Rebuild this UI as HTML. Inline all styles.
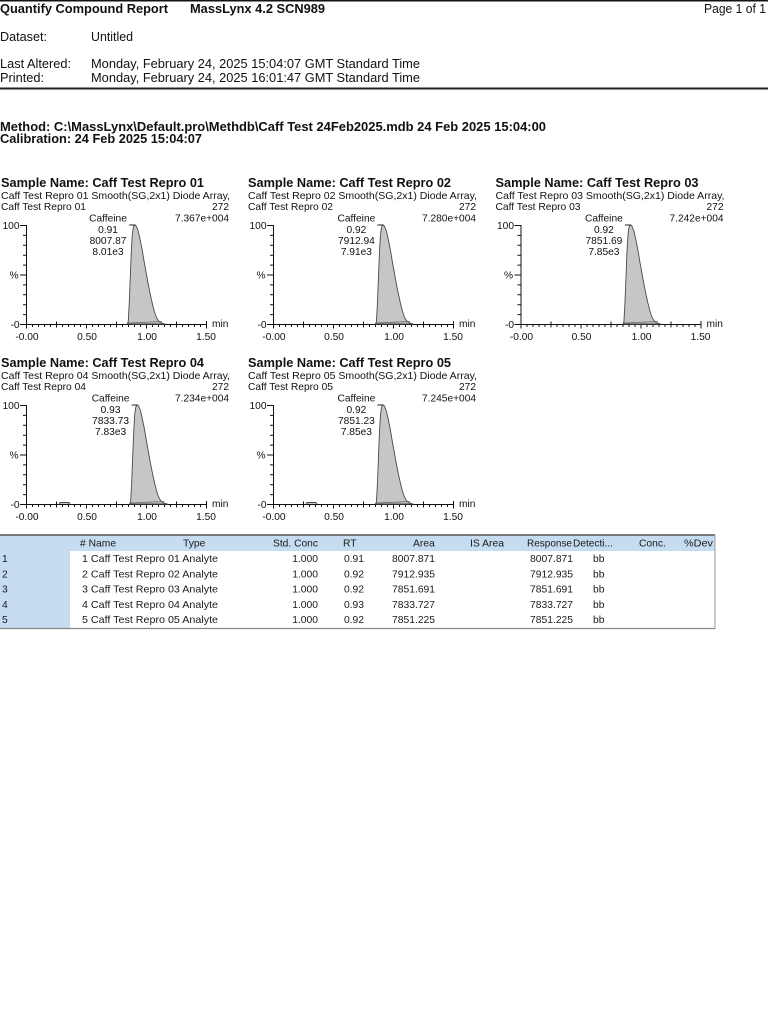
<!DOCTYPE html>
<html>
<head>
<meta charset="utf-8">
<style>
html,body{margin:0;padding:0;background:#fff;}
svg{display:block;}
text{font-family:"Liberation Sans",Arial,sans-serif;fill:#111;}
.b{font-weight:bold;}
.h{font-size:12.5px;}
.c{font-size:10.2px;}
.t{font-size:10.3px;fill:#1a1a1a;}
</style>
</head>
<body>
<svg width="768" height="1024" viewBox="0 0 768 1024" xmlns="http://www.w3.org/2000/svg">
<defs>
  <g id="ax">
    <path d="M26.5 225V324.5 M20 225.5H26.5 M23 235.4H26.5 M23 245.3H26.5 M23 255.2H26.5 M23 265.1H26.5 M20 275H26.5 M23 284.9H26.5 M23 294.8H26.5 M23 304.7H26.5 M23 314.6H26.5 M20 324.5H26.5 M26.5 324.5H206.5" stroke="#111" stroke-width="1" fill="none"/>
    <path d="M26.5 324.5V328.5 M32.5 324.5V327 M38.5 324.5V327 M44.5 324.5V327 M50.5 324.5V327 M56.5 321.5V327.5 M62.5 324.5V327 M68.5 324.5V327 M74.5 324.5V327 M80.5 324.5V327 M86.5 324.5V328.5 M92.5 324.5V327 M98.5 324.5V327 M104.5 324.5V327 M110.5 324.5V327 M116.5 321.5V327.5 M122.5 324.5V327 M128.5 324.5V327 M134.5 324.5V327 M140.5 324.5V327 M146.5 324.5V328.5 M152.5 324.5V327 M158.5 324.5V327 M164.5 324.5V327 M170.5 324.5V327 M176.5 321.5V327.5 M182.5 324.5V327 M188.5 324.5V327 M194.5 324.5V327 M200.5 324.5V327 M206.5 321V328.5" stroke="#111" stroke-width="1" fill="none"/>
  </g>
  <g id="pk">
    <polygon points="-8,0 -7,-2 -6,-20 -5,-45 -4,-70 -3,-88 -2,-96 -1,-99 0,-99 1,-98 3,-93 5,-84 7,-74 9,-62 11,-51 13,-40 15,-30 17,-21 19,-13 21,-7 23,-3.5 25,-1.5 28,-0.5 30,0" fill="#c6c6c6" stroke="#4a4a4a" stroke-width="0.9"/>
    <line x1="-7" y1="-1" x2="27" y2="-2.5" stroke="#666" stroke-width="0.8"/>
    <line x1="-6" y1="-99" x2="0" y2="-99" stroke="#222" stroke-width="1"/>
  </g>
</defs>

<!-- Header -->
<rect x="0" y="0" width="768" height="1.5" fill="#111"/>
<text class="b h" x="0" y="13" textLength="168" lengthAdjust="spacingAndGlyphs" style="font-size:13px">Quantify Compound Report</text>
<text class="b h" x="190" y="13" textLength="135" lengthAdjust="spacingAndGlyphs" style="font-size:13px">MassLynx 4.2 SCN989</text>
<text class="h" x="704" y="13" textLength="62" lengthAdjust="spacingAndGlyphs">Page 1 of 1</text>
<text class="h" x="0" y="41" textLength="47" lengthAdjust="spacingAndGlyphs">Dataset:</text>
<text class="h" x="91" y="41" textLength="42" lengthAdjust="spacingAndGlyphs">Untitled</text>
<text class="h" x="0" y="68" textLength="71" lengthAdjust="spacingAndGlyphs">Last Altered:</text>
<text class="h" x="91" y="68" textLength="329" lengthAdjust="spacingAndGlyphs">Monday, February 24, 2025 15:04:07 GMT Standard Time</text>
<text class="h" x="0" y="82" textLength="44" lengthAdjust="spacingAndGlyphs">Printed:</text>
<text class="h" x="91" y="82" textLength="329" lengthAdjust="spacingAndGlyphs">Monday, February 24, 2025 16:01:47 GMT Standard Time</text>
<rect x="0" y="87.5" width="768" height="2" fill="#222"/>

<text class="b" x="0" y="131" style="font-size:13px" textLength="546" lengthAdjust="spacingAndGlyphs">Method: C:\MassLynx\Default.pro\Methdb\Caff Test 24Feb2025.mdb 24 Feb 2025 15:04:00</text>
<text class="b" x="0" y="143" style="font-size:13px" textLength="202" lengthAdjust="spacingAndGlyphs">Calibration: 24 Feb 2025 15:04:07</text>

<!-- Chart 1 -->
<g transform="translate(0,0)">
  <text class="b" x="1" y="187" style="font-size:13px" textLength="203" lengthAdjust="spacingAndGlyphs">Sample Name: Caff Test Repro 01</text>
  <text class="c" x="1" y="199" textLength="229" lengthAdjust="spacingAndGlyphs">Caff Test Repro 01 Smooth(SG,2x1) Diode Array,</text>
  <text class="c" x="1" y="210" textLength="85" lengthAdjust="spacingAndGlyphs">Caff Test Repro 01</text>
  <text class="c" x="229" y="210" text-anchor="end">272</text>
  <text class="c" x="229" y="221.5" text-anchor="end" textLength="54" lengthAdjust="spacingAndGlyphs">7.367e+004</text>
  <use href="#ax"/>
  <use href="#pk" transform="translate(135.2,324)"/>
  <text class="c" x="108" y="221.5" text-anchor="middle">Caffeine</text>
  <text class="c" x="108" y="233" text-anchor="middle">0.91</text>
  <text class="c" x="108" y="244" text-anchor="middle">8007.87</text>
  <text class="c" x="108" y="255" text-anchor="middle">8.01e3</text>
  <text class="c" x="19.5" y="229" text-anchor="end">100</text>
  <text class="c" x="18.5" y="278.5" text-anchor="end">%</text>
  <text class="c" x="19.5" y="328" text-anchor="end">-0</text>
  <text class="c" x="27" y="340" text-anchor="middle">-0.00</text>
  <text class="c" x="87" y="340" text-anchor="middle">0.50</text>
  <text class="c" x="147" y="340" text-anchor="middle">1.00</text>
  <text class="c" x="206" y="340" text-anchor="middle">1.50</text>
  <text class="c" x="212" y="327">min</text>
</g>

<!-- Chart 2 -->
<g transform="translate(247,0)">
  <text class="b" x="1" y="187" style="font-size:13px" textLength="203" lengthAdjust="spacingAndGlyphs">Sample Name: Caff Test Repro 02</text>
  <text class="c" x="1" y="199" textLength="229" lengthAdjust="spacingAndGlyphs">Caff Test Repro 02 Smooth(SG,2x1) Diode Array,</text>
  <text class="c" x="1" y="210" textLength="85" lengthAdjust="spacingAndGlyphs">Caff Test Repro 02</text>
  <text class="c" x="229" y="210" text-anchor="end">272</text>
  <text class="c" x="229" y="221.5" text-anchor="end" textLength="54" lengthAdjust="spacingAndGlyphs">7.280e+004</text>
  <use href="#ax"/>
  <use href="#pk" transform="translate(136.4,324)"/>
  <text class="c" x="109.4" y="221.5" text-anchor="middle">Caffeine</text>
  <text class="c" x="109.4" y="233" text-anchor="middle">0.92</text>
  <text class="c" x="109.4" y="244" text-anchor="middle">7912.94</text>
  <text class="c" x="109.4" y="255" text-anchor="middle">7.91e3</text>
  <text class="c" x="19.5" y="229" text-anchor="end">100</text>
  <text class="c" x="18.5" y="278.5" text-anchor="end">%</text>
  <text class="c" x="19.5" y="328" text-anchor="end">-0</text>
  <text class="c" x="27" y="340" text-anchor="middle">-0.00</text>
  <text class="c" x="87" y="340" text-anchor="middle">0.50</text>
  <text class="c" x="147" y="340" text-anchor="middle">1.00</text>
  <text class="c" x="206" y="340" text-anchor="middle">1.50</text>
  <text class="c" x="212" y="327">min</text>
</g>

<!-- Chart 3 -->
<g transform="translate(494.5,0)">
  <text class="b" x="1" y="187" style="font-size:13px" textLength="203" lengthAdjust="spacingAndGlyphs">Sample Name: Caff Test Repro 03</text>
  <text class="c" x="1" y="199" textLength="229" lengthAdjust="spacingAndGlyphs">Caff Test Repro 03 Smooth(SG,2x1) Diode Array,</text>
  <text class="c" x="1" y="210" textLength="85" lengthAdjust="spacingAndGlyphs">Caff Test Repro 03</text>
  <text class="c" x="229" y="210" text-anchor="end">272</text>
  <text class="c" x="229" y="221.5" text-anchor="end" textLength="54" lengthAdjust="spacingAndGlyphs">7.242e+004</text>
  <use href="#ax"/>
  <use href="#pk" transform="translate(136.4,324)"/>
  <text class="c" x="109.4" y="221.5" text-anchor="middle">Caffeine</text>
  <text class="c" x="109.4" y="233" text-anchor="middle">0.92</text>
  <text class="c" x="109.4" y="244" text-anchor="middle">7851.69</text>
  <text class="c" x="109.4" y="255" text-anchor="middle">7.85e3</text>
  <text class="c" x="19.5" y="229" text-anchor="end">100</text>
  <text class="c" x="18.5" y="278.5" text-anchor="end">%</text>
  <text class="c" x="19.5" y="328" text-anchor="end">-0</text>
  <text class="c" x="27" y="340" text-anchor="middle">-0.00</text>
  <text class="c" x="87" y="340" text-anchor="middle">0.50</text>
  <text class="c" x="147" y="340" text-anchor="middle">1.00</text>
  <text class="c" x="206" y="340" text-anchor="middle">1.50</text>
  <text class="c" x="212" y="327">min</text>
</g>

<!-- Chart 4 -->
<g transform="translate(0,180)">
  <text class="b" x="1" y="187" style="font-size:13px" textLength="203" lengthAdjust="spacingAndGlyphs">Sample Name: Caff Test Repro 04</text>
  <text class="c" x="1" y="199" textLength="229" lengthAdjust="spacingAndGlyphs">Caff Test Repro 04 Smooth(SG,2x1) Diode Array,</text>
  <text class="c" x="1" y="210" textLength="85" lengthAdjust="spacingAndGlyphs">Caff Test Repro 04</text>
  <text class="c" x="229" y="210" text-anchor="end">272</text>
  <text class="c" x="229" y="221.5" text-anchor="end" textLength="54" lengthAdjust="spacingAndGlyphs">7.234e+004</text>
  <use href="#ax"/>
  <path d="M59 324 L60 322.5 H69 L70 324" fill="#c6c6c6" stroke="#4a4a4a" stroke-width="0.9"/>
  <use href="#pk" transform="translate(137.6,324)"/>
  <text class="c" x="110.6" y="221.5" text-anchor="middle">Caffeine</text>
  <text class="c" x="110.6" y="233" text-anchor="middle">0.93</text>
  <text class="c" x="110.6" y="244" text-anchor="middle">7833.73</text>
  <text class="c" x="110.6" y="255" text-anchor="middle">7.83e3</text>
  <text class="c" x="19.5" y="229" text-anchor="end">100</text>
  <text class="c" x="18.5" y="278.5" text-anchor="end">%</text>
  <text class="c" x="19.5" y="328" text-anchor="end">-0</text>
  <text class="c" x="27" y="340" text-anchor="middle">-0.00</text>
  <text class="c" x="87" y="340" text-anchor="middle">0.50</text>
  <text class="c" x="147" y="340" text-anchor="middle">1.00</text>
  <text class="c" x="206" y="340" text-anchor="middle">1.50</text>
  <text class="c" x="212" y="327">min</text>
</g>

<!-- Chart 5 -->
<g transform="translate(247,180)">
  <text class="b" x="1" y="187" style="font-size:13px" textLength="203" lengthAdjust="spacingAndGlyphs">Sample Name: Caff Test Repro 05</text>
  <text class="c" x="1" y="199" textLength="229" lengthAdjust="spacingAndGlyphs">Caff Test Repro 05 Smooth(SG,2x1) Diode Array,</text>
  <text class="c" x="1" y="210" textLength="85" lengthAdjust="spacingAndGlyphs">Caff Test Repro 05</text>
  <text class="c" x="229" y="210" text-anchor="end">272</text>
  <text class="c" x="229" y="221.5" text-anchor="end" textLength="54" lengthAdjust="spacingAndGlyphs">7.245e+004</text>
  <use href="#ax"/>
  <path d="M59 324 L60 322.5 H69 L70 324" fill="#c6c6c6" stroke="#4a4a4a" stroke-width="0.9"/>
  <use href="#pk" transform="translate(136.4,324)"/>
  <text class="c" x="109.4" y="221.5" text-anchor="middle">Caffeine</text>
  <text class="c" x="109.4" y="233" text-anchor="middle">0.92</text>
  <text class="c" x="109.4" y="244" text-anchor="middle">7851.23</text>
  <text class="c" x="109.4" y="255" text-anchor="middle">7.85e3</text>
  <text class="c" x="19.5" y="229" text-anchor="end">100</text>
  <text class="c" x="18.5" y="278.5" text-anchor="end">%</text>
  <text class="c" x="19.5" y="328" text-anchor="end">-0</text>
  <text class="c" x="27" y="340" text-anchor="middle">-0.00</text>
  <text class="c" x="87" y="340" text-anchor="middle">0.50</text>
  <text class="c" x="147" y="340" text-anchor="middle">1.00</text>
  <text class="c" x="206" y="340" text-anchor="middle">1.50</text>
  <text class="c" x="212" y="327">min</text>
</g>

<!-- Table -->
<rect x="0" y="535" width="715" height="16" fill="#c5dcf1"/>
<rect x="0" y="551" width="70" height="77" fill="#c5dcf1"/>
<line x1="0" y1="535" x2="715" y2="535" stroke="#555" stroke-width="1.5"/>
<line x1="715" y1="535" x2="715" y2="628.5" stroke="#999" stroke-width="1"/>
<line x1="0" y1="628.5" x2="715" y2="628.5" stroke="#888" stroke-width="1.2"/>

<text class="t" x="80" y="546.5"># Name</text>
<text class="t" x="183" y="546.5">Type</text>
<text class="t" x="273" y="546.5" textLength="45" lengthAdjust="spacingAndGlyphs">Std. Conc</text>
<text class="t" x="343" y="546.5">RT</text>
<text class="t" x="413" y="546.5">Area</text>
<text class="t" x="470" y="546.5" textLength="34" lengthAdjust="spacingAndGlyphs">IS Area</text>
<text class="t" x="527" y="546.5" textLength="45" lengthAdjust="spacingAndGlyphs">Response</text>
<text class="t" x="573" y="546.5" textLength="40" lengthAdjust="spacingAndGlyphs">Detecti...</text>
<text class="t" x="639" y="546.5">Conc.</text>
<text class="t" x="684" y="546.5" textLength="29" lengthAdjust="spacingAndGlyphs">%Dev</text>

<g>
  <text class="t" x="2" y="562">1</text>
  <text class="t" x="82" y="562" textLength="136" lengthAdjust="spacingAndGlyphs">1 Caff Test Repro 01 Analyte</text>
  <text class="t" x="318" y="562" text-anchor="end">1.000</text>
  <text class="t" x="364" y="562" text-anchor="end">0.91</text>
  <text class="t" x="435" y="562" text-anchor="end">8007.871</text>
  <text class="t" x="573" y="562" text-anchor="end">8007.871</text>
  <text class="t" x="593" y="562">bb</text>

  <text class="t" x="2" y="577.3">2</text>
  <text class="t" x="82" y="577.3" textLength="136" lengthAdjust="spacingAndGlyphs">2 Caff Test Repro 02 Analyte</text>
  <text class="t" x="318" y="577.3" text-anchor="end">1.000</text>
  <text class="t" x="364" y="577.3" text-anchor="end">0.92</text>
  <text class="t" x="435" y="577.3" text-anchor="end">7912.935</text>
  <text class="t" x="573" y="577.3" text-anchor="end">7912.935</text>
  <text class="t" x="593" y="577.3">bb</text>

  <text class="t" x="2" y="592.6">3</text>
  <text class="t" x="82" y="592.6" textLength="136" lengthAdjust="spacingAndGlyphs">3 Caff Test Repro 03 Analyte</text>
  <text class="t" x="318" y="592.6" text-anchor="end">1.000</text>
  <text class="t" x="364" y="592.6" text-anchor="end">0.92</text>
  <text class="t" x="435" y="592.6" text-anchor="end">7851.691</text>
  <text class="t" x="573" y="592.6" text-anchor="end">7851.691</text>
  <text class="t" x="593" y="592.6">bb</text>

  <text class="t" x="2" y="607.9">4</text>
  <text class="t" x="82" y="607.9" textLength="136" lengthAdjust="spacingAndGlyphs">4 Caff Test Repro 04 Analyte</text>
  <text class="t" x="318" y="607.9" text-anchor="end">1.000</text>
  <text class="t" x="364" y="607.9" text-anchor="end">0.93</text>
  <text class="t" x="435" y="607.9" text-anchor="end">7833.727</text>
  <text class="t" x="573" y="607.9" text-anchor="end">7833.727</text>
  <text class="t" x="593" y="607.9">bb</text>

  <text class="t" x="2" y="623.2">5</text>
  <text class="t" x="82" y="623.2" textLength="136" lengthAdjust="spacingAndGlyphs">5 Caff Test Repro 05 Analyte</text>
  <text class="t" x="318" y="623.2" text-anchor="end">1.000</text>
  <text class="t" x="364" y="623.2" text-anchor="end">0.92</text>
  <text class="t" x="435" y="623.2" text-anchor="end">7851.225</text>
  <text class="t" x="573" y="623.2" text-anchor="end">7851.225</text>
  <text class="t" x="593" y="623.2">bb</text>
</g>
</svg>
</body>
</html>
